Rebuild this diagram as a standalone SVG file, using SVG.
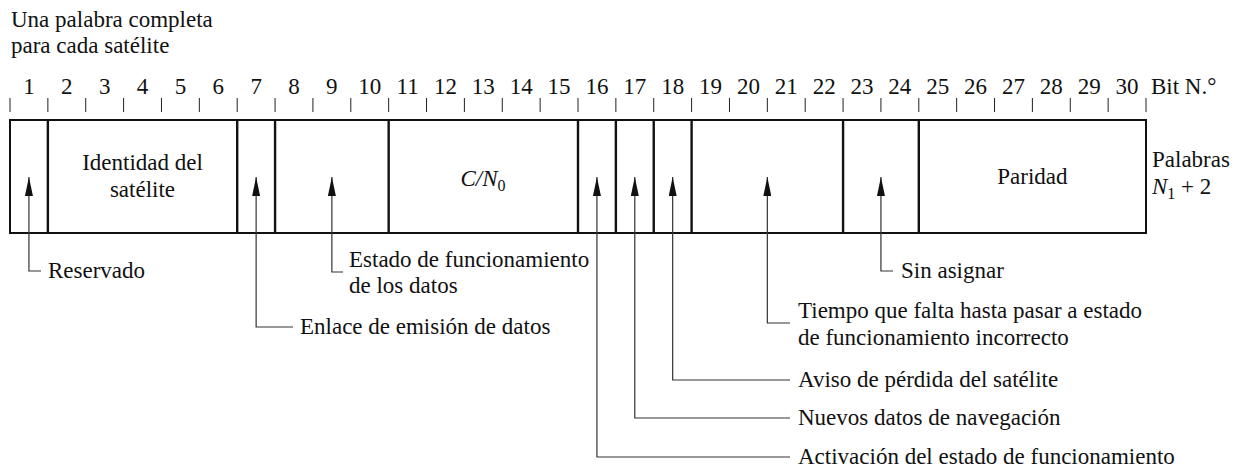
<svg xmlns="http://www.w3.org/2000/svg" width="1245" height="468" viewBox="0 0 1245 468">
<style>
.tick{stroke:#222;stroke-width:1}
.frame{fill:none;stroke:#111;stroke-width:2}
.div{stroke:#111;stroke-width:2.4}
.conn{fill:none;stroke:#333;stroke-width:1.2;marker-start:url(#arr)}
</style>
<defs>
<marker id="arr" markerUnits="userSpaceOnUse" viewBox="0 -4 19 8" refX="19" refY="0" markerWidth="19" markerHeight="8" orient="auto-start-reverse">
<path d="M0,-4 L19,0 L0,4 Z" fill="#111"/>
</marker>
</defs>
<g font-family="Liberation Serif" font-size="23" fill="#111">
<g id="header">
<text x="11" y="27">Una palabra completa</text>
<text x="11" y="53">para cada satélite</text>
</g>
<g id="bitscale">
<g class="tick">
<line x1="10" y1="98" x2="10" y2="112"/><line x1="47.87" y1="98" x2="47.87" y2="112"/><line x1="85.73" y1="98" x2="85.73" y2="112"/><line x1="123.6" y1="98" x2="123.6" y2="112"/><line x1="161.47" y1="98" x2="161.47" y2="112"/><line x1="199.33" y1="98" x2="199.33" y2="112"/><line x1="237.2" y1="98" x2="237.2" y2="112"/><line x1="275.07" y1="98" x2="275.07" y2="112"/><line x1="312.93" y1="98" x2="312.93" y2="112"/><line x1="350.8" y1="98" x2="350.8" y2="112"/><line x1="388.67" y1="98" x2="388.67" y2="112"/><line x1="426.53" y1="98" x2="426.53" y2="112"/><line x1="464.4" y1="98" x2="464.4" y2="112"/><line x1="502.27" y1="98" x2="502.27" y2="112"/><line x1="540.13" y1="98" x2="540.13" y2="112"/><line x1="578" y1="98" x2="578" y2="112"/><line x1="615.87" y1="98" x2="615.87" y2="112"/><line x1="653.73" y1="98" x2="653.73" y2="112"/><line x1="691.6" y1="98" x2="691.6" y2="112"/><line x1="729.47" y1="98" x2="729.47" y2="112"/><line x1="767.33" y1="98" x2="767.33" y2="112"/><line x1="805.2" y1="98" x2="805.2" y2="112"/><line x1="843.07" y1="98" x2="843.07" y2="112"/><line x1="880.93" y1="98" x2="880.93" y2="112"/><line x1="918.8" y1="98" x2="918.8" y2="112"/><line x1="956.67" y1="98" x2="956.67" y2="112"/><line x1="994.53" y1="98" x2="994.53" y2="112"/><line x1="1032.4" y1="98" x2="1032.4" y2="112"/><line x1="1070.27" y1="98" x2="1070.27" y2="112"/><line x1="1108.13" y1="98" x2="1108.13" y2="112"/><line x1="1146" y1="98" x2="1146" y2="112"/>
</g>
<g text-anchor="middle">
<text x="28.93" y="94">1</text><text x="66.8" y="94">2</text><text x="104.67" y="94">3</text><text x="142.53" y="94">4</text><text x="180.4" y="94">5</text><text x="218.27" y="94">6</text><text x="256.13" y="94">7</text><text x="294" y="94">8</text><text x="331.87" y="94">9</text><text x="369.73" y="94">10</text><text x="407.6" y="94">11</text><text x="445.47" y="94">12</text><text x="483.33" y="94">13</text><text x="521.2" y="94">14</text><text x="559.07" y="94">15</text><text x="596.93" y="94">16</text><text x="634.8" y="94">17</text><text x="672.67" y="94">18</text><text x="710.53" y="94">19</text><text x="748.4" y="94">20</text><text x="786.27" y="94">21</text><text x="824.13" y="94">22</text><text x="862" y="94">23</text><text x="899.87" y="94">24</text><text x="937.73" y="94">25</text><text x="975.6" y="94">26</text><text x="1013.47" y="94">27</text><text x="1051.33" y="94">28</text><text x="1089.2" y="94">29</text><text x="1127.07" y="94">30</text>
</g>
<text x="1151" y="94">Bit N.°</text>
</g>
<g id="word">
<rect class="frame" x="10" y="120" width="1136" height="113"/>
<line class="div" x1="47.87" y1="120" x2="47.87" y2="233"/>
<line class="div" x1="237.2" y1="120" x2="237.2" y2="233"/>
<line class="div" x1="275.07" y1="120" x2="275.07" y2="233"/>
<line class="div" x1="388.67" y1="120" x2="388.67" y2="233"/>
<line class="div" x1="578" y1="120" x2="578" y2="233"/>
<line class="div" x1="615.87" y1="120" x2="615.87" y2="233"/>
<line class="div" x1="653.73" y1="120" x2="653.73" y2="233"/>
<line class="div" x1="691.6" y1="120" x2="691.6" y2="233"/>
<line class="div" x1="843.07" y1="120" x2="843.07" y2="233"/>
<line class="div" x1="918.8" y1="120" x2="918.8" y2="233"/>
</g>
<g id="field-identidad" text-anchor="middle"><text x="142.5" y="170">Identidad del</text><text x="142.5" y="197">satélite</text></g>
<g id="field-cn0" text-anchor="middle"><text x="483" y="186"><tspan font-style="italic">C/N</tspan><tspan font-size="16" dy="5">0</tspan></text></g>
<g id="field-paridad" text-anchor="middle"><text x="1032.4" y="184">Paridad</text></g>
<g id="palabras"><text x="1152" y="167">Palabras</text><text x="1152" y="194"><tspan font-style="italic">N</tspan><tspan font-size="16" dy="5">1</tspan><tspan dy="-5"> + 2</tspan></text></g>
<g id="connectors">
<path class="conn" d="M28.93,177 V271 H41"/>
<path class="conn" d="M256.13,177 V327 H293"/>
<path class="conn" d="M331.87,177 V272 H343"/>
<path class="conn" d="M596.93,177 V457 H790"/>
<path class="conn" d="M634.8,177 V418 H790"/>
<path class="conn" d="M672.67,177 V380 H790"/>
<path class="conn" d="M767.33,177 V323 H790"/>
<path class="conn" d="M880.93,177 V271 H893"/>
</g>
<g id="label-reservado"><text x="48" y="278">Reservado</text></g>
<g id="label-enlace"><text x="300" y="334">Enlace de emisión de datos</text></g>
<g id="label-estado"><text x="349" y="267">Estado de funcionamiento</text><text x="349" y="293">de los datos</text></g>
<g id="label-sin"><text x="901" y="278">Sin asignar</text></g>
<g id="label-tiempo"><text x="798" y="318">Tiempo que falta hasta pasar a estado</text><text x="798" y="345">de funcionamiento incorrecto</text></g>
<g id="label-aviso"><text x="798" y="387">Aviso de pérdida del satélite</text></g>
<g id="label-nuevos"><text x="798" y="425">Nuevos datos de navegación</text></g>
<g id="label-activacion"><text x="798" y="464">Activación del estado de funcionamiento</text></g>
</g>
</svg>
